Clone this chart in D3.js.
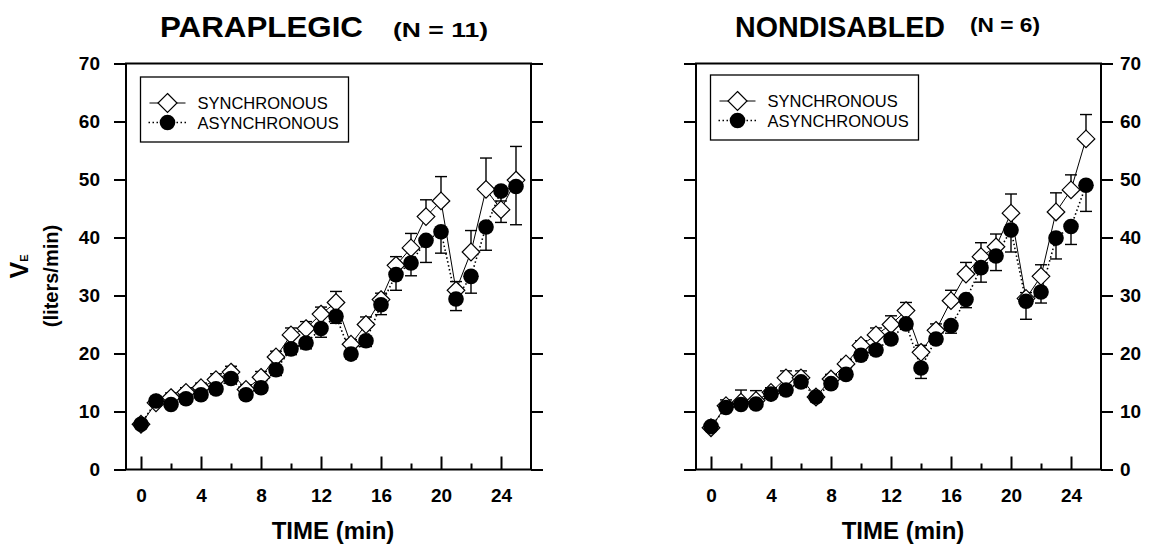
<!DOCTYPE html>
<html>
<head>
<meta charset="utf-8">
<script src="https://cdn.jsdelivr.net/npm/d3@7"></script>
<style>
  body { margin: 0; background: #fff; }
  svg { display: block; font-family: "Liberation Sans", Arial, sans-serif; }
</style>
</head>
<body>
<div id="chart"></div>
<script>
// 1. Data
const times = [0, 1, 2, 3, 4, 5, 6, 7, 8, 9, 10, 11, 12, 13, 14, 15, 16, 17, 18, 19, 20, 21, 22, 23, 24, 25];

// paraplegic
const paraSync    = [7.8, 11.5, 12.4, 13.3, 14.1, 15.5, 16.8, 13.8, 15.9, 19.4, 23.2, 24.3, 26.8, 28.8, 21.6, 25.0, 29.3, 35.2, 38.2, 43.6, 46.3, 30.9, 37.5, 48.3, 44.8, 49.9];
const paraSyncErr = [0.5, 0.6, 0.8, 0.8, 0.8, 1.0, 1.0, 0.8, 1.0, 1.0, 1.2, 1.2, 1.2, 1.9, 0.8, 1.3, 1.1, 1.5, 2.5, 2.9, 4.2, 1.5, 3.7, 5.4, 1.5, 5.8];
const paraAsync    = [7.8, 11.8, 11.2, 12.2, 12.9, 13.9, 15.7, 12.9, 14.1, 17.2, 20.8, 21.8, 24.3, 26.4, 19.9, 22.2, 28.4, 33.6, 35.6, 39.5, 41.0, 29.4, 33.3, 41.8, 48.0, 48.8];
const paraAsyncErr = [0.5, 0.5, 0.6, 0.6, 0.6, 0.8, 0.8, 0.8, 0.8, 1.0, 1.0, 1.0, 1.5, 1.2, 0.8, 1.0, 1.7, 2.7, 2.2, 3.8, 3.7, 2.0, 2.9, 4.0, 5.4, 6.6];

// nondisabled
const nonSync    = [7.2, 11.0, 11.6, 11.9, 13.3, 15.8, 15.8, 12.5, 15.6, 18.2, 21.4, 23.2, 25.0, 27.4, 20.2, 24.0, 29.1, 33.7, 36.7, 38.4, 44.2, 29.5, 33.3, 44.4, 48.2, 57.0];
const nonSyncErr = [0.5, 1.0, 2.1, 1.7, 0.8, 1.2, 1.2, 0.6, 0.8, 0.8, 0.8, 1.2, 1.5, 1.4, 1.2, 1.1, 1.8, 2.0, 2.4, 2.2, 3.3, 1.0, 2.0, 3.3, 2.6, 4.2];
const nonAsync    = [7.4, 10.7, 11.2, 11.3, 13.0, 13.7, 15.1, 12.5, 14.8, 16.4, 19.7, 20.6, 22.5, 25.1, 17.5, 22.5, 24.8, 29.3, 34.8, 36.8, 41.3, 29.0, 30.6, 39.9, 41.9, 49.0];
const nonAsyncErr = [0.5, 0.6, 0.6, 0.6, 0.6, 0.8, 0.8, 0.8, 0.8, 0.8, 0.8, 0.8, 0.8, 0.8, 1.8, 0.8, 1.3, 1.4, 2.5, 2.5, 3.8, 3.1, 1.9, 3.6, 3.1, 4.5];

const yTicks = [0, 10, 20, 30, 40, 50, 60, 70];
const xMajorTicks = [0, 4, 8, 12, 16, 20, 24];
const xMinorTicks = [2, 6, 10, 14, 18, 22];
const legendLabels = ["SYNCHRONOUS", "ASYNCHRONOUS"];

// 2. Dimensions
const dimensions = {
  width: 1155,
  height: 549,
  top: 63.5,
  bottom: 469.5,
};

const panels = [
  {
    title: "PARAPLEGIC", n: "(N = 11)",
    left: 126, right: 531, labelSide: "left",
    titleX: 160, titleLen: 203, nX: 393, nY: 37, nLen: 95,
    sync: paraSync, syncErr: paraSyncErr, async: paraAsync, asyncErr: paraAsyncErr,
    legendY: 77, xLabelShift: 4.5
  },
  {
    title: "NONDISABLED", n: "(N = 6)",
    left: 696, right: 1101, labelSide: "right",
    titleX: 735, titleLen: 210, nX: 970, nY: 32, nLen: 70,
    sync: nonSync, syncErr: nonSyncErr, async: nonAsync, asyncErr: nonAsyncErr,
    legendY: 75, xLabelShift: 4.5
  }
];

// 3. Canvas
const wrapper = d3.select("#chart")
  .append("svg")
    .attr("width", dimensions.width)
    .attr("height", dimensions.height);

const diamond = (cx, cy, rx, ry) =>
  `M${cx},${cy - ry}L${cx + rx},${cy}L${cx},${cy + ry}L${cx - rx},${cy}Z`;

panels.forEach(p => {
  const g = wrapper.append("g");

  // 4. Scales
  const xScale = d3.scaleLinear().domain([-1, 26]).range([p.left, p.right]);
  const yScale = d3.scaleLinear().domain([0, 70]).range([dimensions.bottom, dimensions.top]);

  const syncData = times.map((t, i) => ({ t, v: p.sync[i], e: p.syncErr[i] }));
  const asyncData = times.map((t, i) => ({ t, v: p.async[i], e: p.asyncErr[i] }));

  // 5. Data
  const lineGenerator = d3.line()
    .x(d => xScale(d.t))
    .y(d => yScale(d.v));

  g.append("path")
    .attr("d", lineGenerator(syncData))
    .attr("fill", "none")
    .attr("stroke", "#000")
    .attr("stroke-width", 1);

  g.append("path")
    .attr("d", lineGenerator(asyncData))
    .attr("fill", "none")
    .attr("stroke", "#000")
    .attr("stroke-width", 1.6)
    .attr("stroke-dasharray", "1.5,2.5");

  // error bars: sync upward, async downward
  const drawErr = (data, dir) => {
    const eg = g.append("g")
      .attr("stroke", "#000")
      .attr("stroke-width", 1.4);
    eg.selectAll("line.v").data(data).join("line")
      .attr("x1", d => xScale(d.t)).attr("x2", d => xScale(d.t))
      .attr("y1", d => yScale(d.v))
      .attr("y2", d => yScale(d.v + dir * d.e));
    eg.selectAll("line.c").data(data).join("line")
      .attr("x1", d => xScale(d.t) - 6).attr("x2", d => xScale(d.t) + 6)
      .attr("y1", d => yScale(d.v + dir * d.e))
      .attr("y2", d => yScale(d.v + dir * d.e));
  };
  drawErr(syncData, 1);
  drawErr(asyncData, -1);

  g.append("g").selectAll("path").data(syncData).join("path")
    .attr("d", d => diamond(xScale(d.t), yScale(d.v), 8.8, 8.8))
    .attr("fill", "#fff")
    .attr("stroke", "#000")
    .attr("stroke-width", 1.2);

  g.append("g").selectAll("circle").data(asyncData).join("circle")
    .attr("cx", d => xScale(d.t))
    .attr("cy", d => yScale(d.v))
    .attr("r", 7.8)
    .attr("fill", "#000");

  // 6. Peripherals
  g.append("rect")
    .attr("x", p.left).attr("y", dimensions.top)
    .attr("width", p.right - p.left)
    .attr("height", dimensions.bottom - dimensions.top)
    .attr("fill", "none")
    .attr("stroke", "#000")
    .attr("stroke-width", 2);

  const styleAxis = sel => {
    sel.select(".domain").remove();
    sel.selectAll(".tick line").attr("stroke-width", 2);
    sel.selectAll(".tick text")
      .attr("font-family", "'Liberation Sans', Arial, sans-serif")
      .attr("font-weight", "bold")
      .attr("font-size", 19)
      .attr("fill", "#000");
  };

  const labelled = p.labelSide === "left";
  const leftAxis = d3.axisLeft(yScale).tickValues(yTicks).tickSize(12).tickPadding(14)
    .tickFormat(labelled ? d3.format("d") : "");
  const rightAxis = d3.axisRight(yScale).tickValues(yTicks).tickSize(12).tickPadding(7)
    .tickFormat(labelled ? "" : d3.format("d"));

  g.append("g").attr("transform", `translate(${p.left},0)`).call(leftAxis).call(styleAxis);
  g.append("g").attr("transform", `translate(${p.right},0)`).call(rightAxis).call(styleAxis);

  g.append("g").attr("transform", `translate(0,${dimensions.bottom})`)
    .call(d3.axisBottom(xScale).tickValues(xMajorTicks).tickSize(-13).tickPadding(19))
    .call(styleAxis);
  g.append("g").attr("transform", `translate(0,${dimensions.bottom})`)
    .call(d3.axisBottom(xScale).tickValues(xMinorTicks).tickSize(-6).tickFormat(""))
    .call(styleAxis);

  // titles
  g.append("text")
    .attr("x", p.titleX).attr("y", 37)
    .attr("font-size", 30).attr("font-weight", "bold")
    .attr("textLength", p.titleLen).attr("lengthAdjust", "spacingAndGlyphs")
    .text(p.title);
  g.append("text")
    .attr("x", p.nX).attr("y", p.nY)
    .attr("font-size", 21).attr("font-weight", "bold")
    .attr("textLength", p.nLen).attr("lengthAdjust", "spacingAndGlyphs")
    .text(p.n);

  g.append("text")
    .attr("x", (p.left + p.right) / 2 + p.xLabelShift).attr("y", 539)
    .attr("text-anchor", "middle")
    .attr("font-size", 24).attr("font-weight", "bold")
    .text("TIME (min)");

  // legend
  const lx = p.left + 14.5;
  const lg = g.append("g");
  lg.append("rect")
    .attr("x", lx).attr("y", p.legendY)
    .attr("width", 208).attr("height", 65)
    .attr("fill", "#fff").attr("stroke", "#000").attr("stroke-width", 1.3);
  const symX = lx + 27;
  const rowY = [p.legendY + 26, p.legendY + 45.5];
  lg.append("line")
    .attr("x1", symX - 18).attr("x2", symX + 18)
    .attr("y1", rowY[0]).attr("y2", rowY[0])
    .attr("stroke", "#000").attr("stroke-width", 1);
  lg.append("path")
    .attr("d", diamond(symX, rowY[0], 9.5, 9.5))
    .attr("fill", "#fff").attr("stroke", "#000").attr("stroke-width", 1.2);
  lg.append("line")
    .attr("x1", symX - 19).attr("x2", symX + 19)
    .attr("y1", rowY[1]).attr("y2", rowY[1])
    .attr("stroke", "#000").attr("stroke-width", 1.5)
    .attr("stroke-dasharray", "1.5,2.5");
  lg.append("circle")
    .attr("cx", symX).attr("cy", rowY[1]).attr("r", 7.8).attr("fill", "#000");
  lg.selectAll("text.leg").data(legendLabels).join("text")
    .attr("x", lx + 57)
    .attr("y", (d, i) => rowY[i] + 6)
    .attr("font-size", 16.5)
    .text(d => d);
});

// y axis label
const yLabel = wrapper.append("g");
const vText = yLabel.append("text")
  .attr("transform", "translate(28,266.5) rotate(-90)")
  .attr("text-anchor", "middle")
  .attr("font-weight", "bold");
vText.append("tspan").attr("font-size", 25).text("V");
vText.append("tspan").attr("font-size", 11).text("E");

yLabel.append("text")
  .attr("transform", "translate(58,276) rotate(-90)")
  .attr("text-anchor", "middle")
  .attr("font-size", 20)
  .attr("font-weight", "bold")
  .text("(liters/min)");
</script>
</body>
</html>
